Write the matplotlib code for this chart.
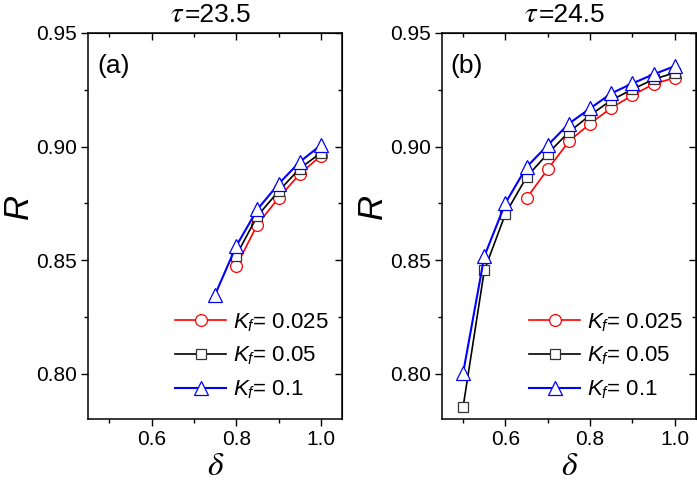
import matplotlib.pyplot as plt
from matplotlib.ticker import MultipleLocator

plt.rcParams['font.family'] = ['Liberation Sans', 'DejaVu Sans']
plt.rcParams['mathtext.fontset'] = 'custom'
plt.rcParams['mathtext.rm'] = 'Liberation Sans'
plt.rcParams['mathtext.it'] = 'Liberation Sans:italic'

# data
# panel (a), tau = 23.5
delta_a_red = [0.80, 0.85, 0.90, 0.95, 1.00]
R_a_red = [0.8473, 0.8656, 0.8773, 0.8879, 0.8959]
delta_a_black = [0.80, 0.85, 0.90, 0.95, 1.00]
R_a_black = [0.8520, 0.8694, 0.8803, 0.8903, 0.8972]
delta_a_blue = [0.75, 0.80, 0.85, 0.90, 0.95, 1.00]
R_a_blue = [0.8347, 0.8561, 0.8723, 0.8835, 0.8932, 0.9006]

# panel (b), tau = 24.5
delta_b_red = [0.65, 0.70, 0.75, 0.80, 0.85, 0.90, 0.95, 1.00]
R_b_red = [0.8773, 0.8900, 0.9023, 0.9101, 0.9170, 0.9226, 0.9275, 0.9303]
delta_b_black = [0.50, 0.55, 0.60, 0.65, 0.70, 0.75, 0.80, 0.85, 0.90, 0.95, 1.00]
R_b_black = [0.7854, 0.8454, 0.8704, 0.8866, 0.8969, 0.9064, 0.9138, 0.9204, 0.9252, 0.9296, 0.9325]
delta_b_blue = [0.50, 0.55, 0.60, 0.65, 0.70, 0.75, 0.80, 0.85, 0.90, 0.95, 1.00]
R_b_blue = [0.8003, 0.8516, 0.8751, 0.8910, 0.9006, 0.9101, 0.9168, 0.9234, 0.9278, 0.9318, 0.9354]

labels = ['$K_f$= 0.025', '$K_f$= 0.05', '$K_f$= 0.1']
taus = ['=23.5', '=24.5']
panel_tags = ['(a)', '(b)']

fig = plt.figure(figsize=(6.97, 4.88), dpi=100)
ax1 = fig.add_axes([0.1263, 0.1414, 0.3644, 0.791])
ax2 = fig.add_axes([0.6341, 0.1414, 0.3644, 0.791])

panels = [
    (ax1, (delta_a_red, R_a_red), (delta_a_black, R_a_black), (delta_a_blue, R_a_blue)),
    (ax2, (delta_b_red, R_b_red), (delta_b_black, R_b_black), (delta_b_blue, R_b_blue)),
]

for i, (ax, red, black, blue) in enumerate(panels):
    ax.plot(red[0], red[1], '-o', color='#ff0000', lw=1.2, ms=8.5, mfc='white',
            mec='#ff0000', mew=0.9, label=labels[0], zorder=3)
    ax.plot(black[0], black[1], '-s', color='black', lw=1.2, ms=7, mfc='white',
            mec='#333333', mew=0.9, label=labels[1], zorder=4)
    ax.plot(blue[0], blue[1], '-^', color='#0000ff', lw=1.5, ms=9.5, mfc='white',
            mec='#0000ff', mew=0.9, label=labels[2], zorder=5)

    ax.set_xlim(0.45, 1.05)
    ax.set_ylim(0.78, 0.95)
    ax.xaxis.set_minor_locator(MultipleLocator(0.1))
    ax.yaxis.set_minor_locator(MultipleLocator(0.025))
    ax.set_xticks([0.6, 0.8, 1.0])
    ax.set_xticklabels(['0.6', '0.8', '1.0'])
    ax.set_yticks([0.80, 0.85, 0.90, 0.95])
    ax.set_yticklabels(['0.80', '0.85', '0.90', '0.95'])
    ax.tick_params(which='major', direction='out', length=5, width=1, labelsize=15, pad=3)
    ax.tick_params(which='minor', direction='out', length=3, width=1)
    for s in ax.spines.values():
        s.set_linewidth(1.1)

    # mirrored ticks pointing inward on top and right
    top = ax.secondary_xaxis('top')
    top.set_xticks([0.6, 0.8, 1.0])
    top.xaxis.set_minor_locator(MultipleLocator(0.1))
    top.tick_params(which='major', direction='in', length=5, width=1, labeltop=False)
    top.tick_params(which='minor', direction='in', length=3, width=1)
    right = ax.secondary_yaxis('right')
    right.set_yticks([0.80, 0.85, 0.90, 0.95])
    right.yaxis.set_minor_locator(MultipleLocator(0.025))
    right.tick_params(which='major', direction='in', length=5, width=1, labelright=False)
    right.tick_params(which='minor', direction='in', length=3, width=1)

    ax.set_xlabel('δ', fontsize=24, family='STIXGeneral', style='italic')
    ax.xaxis.set_label_coords(0.5, -0.085)
    ax.set_ylabel('R', fontsize=25, style='italic')
    ax.yaxis.set_label_coords(-0.21, 0.55)

    ax.text(0.372, 1.028, 'τ', transform=ax.transAxes, ha='right', va='baseline',
            fontsize=21, family='STIXGeneral', style='italic')
    ax.text(0.38, 1.028, taus[i], transform=ax.transAxes, ha='left', va='baseline',
            fontsize=19)
    ax.text(0.035, 0.915, panel_tags[i], transform=ax.transAxes, ha='left',
            va='center', fontsize=19)

    ax.legend(loc='lower right', bbox_to_anchor=(1.0, 0.012), frameon=False,
              fontsize=16, handlelength=2.3, handletextpad=0.3, labelspacing=0.5,
              borderaxespad=0.2)

plt.savefig('out.png', dpi=100)
